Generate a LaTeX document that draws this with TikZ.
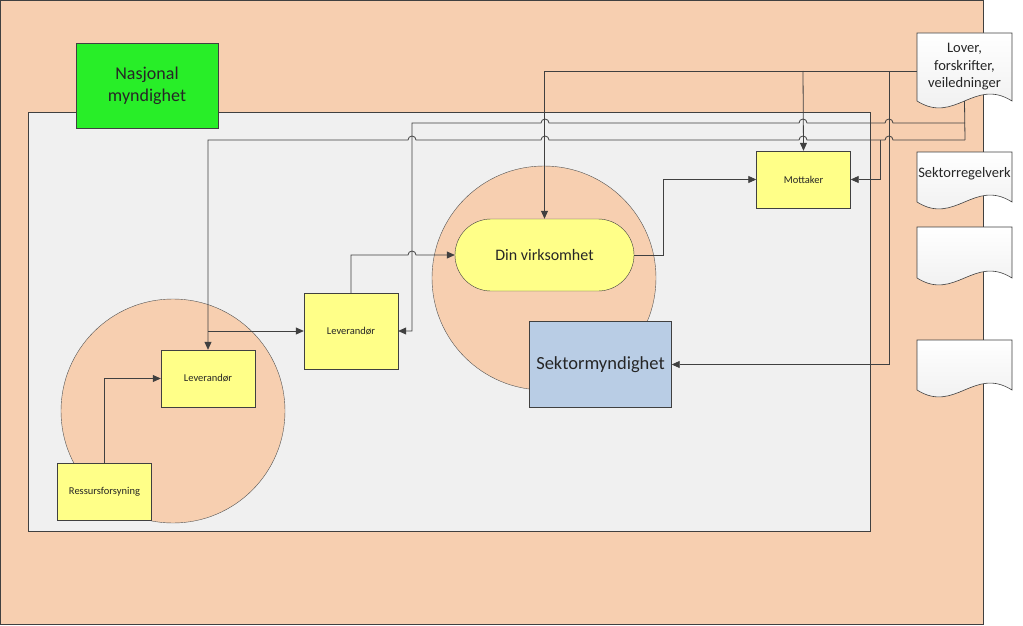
\documentclass[tikz,border=0pt]{standalone}
\usepackage{fontspec}
\setmainfont{Carlito}
\usetikzlibrary{shapes, positioning, arrows.meta}

\definecolor{fersken}{RGB}{247,207,176}
\definecolor{lysgraa}{RGB}{240,240,240}
\definecolor{gulboks}{RGB}{255,255,136}
\definecolor{groenn}{RGB}{40,238,40}
\definecolor{blaa}{RGB}{185,205,229}
\definecolor{strek}{RGB}{64,64,64}

\tikzset{
    linje/.style={draw=strek, line width=0.8pt},
    pil/.style={linje, -{Triangle[length=8pt, width=7pt]}},
    sirkel/.style={circle, draw=strek!90, fill=fersken, minimum size=224pt, inner sep=0pt},
    boks/.style={rectangle, draw=strek, fill=gulboks, text=black!85, minimum width=94pt, minimum height=57pt,
        inner sep=1pt, font=\fontsize{10.5}{12}\selectfont},
    virksomhet/.style={rectangle, rounded corners=36pt, draw=strek, fill=gulboks, text=black!85,
        minimum width=179pt, minimum height=72pt, font=\fontsize{16}{19}\selectfont},
    sektor/.style={rectangle, draw=strek, fill=blaa, text=black!85, minimum width=142pt, minimum height=86pt,
        font=\fontsize{18.5}{22}\selectfont},
    nasjonal/.style={rectangle, draw=strek, fill=groenn, text=black!85, minimum width=142pt, minimum height=85pt,
        align=center, font=\fontsize{18}{22}\selectfont},
    dok/.style={rectangle, minimum width=95pt, minimum height=50pt, inner sep=0pt, text=black!85,
        align=center, font=\fontsize{14.5}{17.5}\selectfont},
    dokline/.style={draw=strek, line width=0.6pt, top color=white, bottom color=black!7}
}

\newcommand{\dokform}[2]{%
    \path[dokline] (917,#1) -- (1012,#1) -- (1012,#2)
        .. controls (974,#2-24) and (955,#2+24) .. (917,#2) -- cycle;}

\begin{document}
\begin{tikzpicture}[x=1pt, y=-1pt]
    \useasboundingbox (0,0) rectangle (1023,626);
    \draw[strek, fill=fersken] (0.5,0.5) rectangle (983,624);
    \draw[strek, fill=lysgraa] (28,112) rectangle (870,531);

    \node[sirkel] at (173, 411) (sirkelA) {};
    \node[sirkel] at (544, 278) (sirkelB) {};

    \node[nasjonal] at (147, 85.5) (nasjonal) {Nasjonal\\myndighet};
    \node[virksomhet] at (544.5, 255) (din) {Din virksomhet};
    \node[sektor] at (600.5, 364.5) (sektor) {Sektormyndighet};
    \node[boks] at (803.5, 179.5) (mottaker) {Mottaker};
    \node[boks, minimum height=76pt] at (351, 331) (levB) {Leverandør};
    \node[boks] at (208, 378.5) (levA) {Leverandør};
    \node[boks] at (104.5, 491.5) (ressurs) {Ressursforsyning};

    \dokform{33}{101}
    \dokform{152}{202}
    \dokform{227}{278}
    \dokform{340}{390}
    \node[dok, minimum height=68pt] at (964.5, 67) (lover) {Lover,\\forskrifter,\\veiledninger};
    \node[dok] at (964.5, 174) (regelverk) {Sektorregelverk};
    \node[dok] at (964.5, 252.5) (tomA) {};
    \node[dok] at (964.5, 365) (tomB) {};

    \coordinate (j1) at (803, 71);
    \coordinate (j2) at (889, 71);
    \coordinate (k1) at (965, 123);
    \coordinate (k2) at (965, 140);
    \coordinate (j3) at (880, 140);
    \coordinate (j4) at (208, 331);

    \draw[pil] (lover.west |- j1) -| (din.north);
    \draw[pil] (j1) -- (mottaker.north);
    \draw[pil] (j2) |- (sektor.east);
    \draw[linje] (lover.south) -- (k2);
    \draw[pil] (k1) -- (893,123) arc (0:-180:4) -- (807,123) arc (0:-180:4)
        -- (549,123) arc (0:-180:4) -- (412,123) |- (levB.east);
    \draw[pil] (k2) -- (893,140) arc (0:-180:4) -- (807,140) arc (0:-180:4)
        -- (549,140) arc (0:-180:4) -- (416,140) arc (0:-180:4) -- (208,140) -- (levA.north);
    \draw[pil] (j3) |- (mottaker.east);
    \draw[pil] (j4) -- (levB.west);
    \draw[pil] (levB.north) |- (408,255) arc (180:360:4) -- (din.west);
    \draw[pil] (din.east) -- ++(29,0) |- (mottaker.west);
    \draw[pil] (ressurs.north) |- (levA.west);
\end{tikzpicture}
\end{document}
